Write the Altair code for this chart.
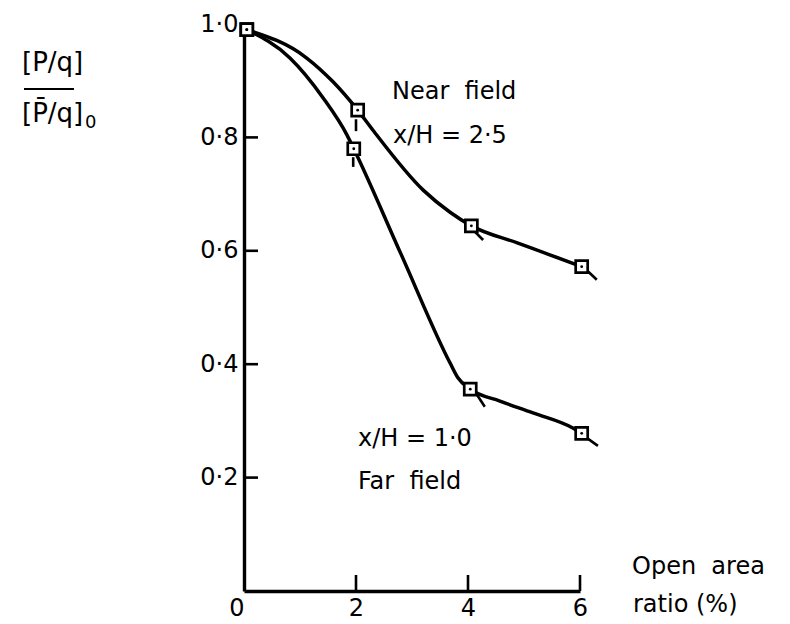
import altair as alt
import pandas as pd

# ---- data ----
x_ticks = [0, 2, 4, 6]
y_label_values = [0.2, 0.4, 0.6, 0.8, 1.0]
y_inner_ticks = [0.2, 0.4, 0.6, 0.8]
x_inner_ticks = [2, 4, 6]

# measured points (square markers)
near_x = [0.05, 2.03, 4.06, 6.03]
near_y = [0.99, 0.848, 0.644, 0.572]
far_x = [0.05, 1.96, 4.04, 6.03]
far_y = [0.99, 0.78, 0.356, 0.278]

# hand-drawn curves
near_curve_x = [0.05, 1.12, 1.59, 2.03, 2.30, 3.20, 3.68, 4.06, 4.88, 5.46, 6.03]
near_curve_y = [0.99, 0.94, 0.898, 0.848, 0.813, 0.707, 0.668, 0.644, 0.614, 0.593, 0.572]
far_curve_x = [0.05, 0.82, 1.41, 1.84, 1.96, 2.80, 3.68, 3.82, 4.04, 4.57, 5.16, 5.88, 6.03]
far_curve_y = [0.99, 0.94, 0.87, 0.804, 0.78, 0.595, 0.402, 0.376, 0.356, 0.335, 0.314, 0.287, 0.278]

# short pen strokes next to the squares (start/end of each)
tail_id = ["n2", "n2", "f2", "f2", "n4", "n4", "f4", "f4", "n6", "n6", "f6", "f6"]
tail_x = [2.00, 2.00, 1.95, 1.95, 4.09, 4.27, 4.16, 4.30, 6.14, 6.30, 6.12, 6.32]
tail_y = [0.832, 0.811, 0.765, 0.748, 0.637, 0.619, 0.346, 0.325, 0.564, 0.549, 0.270, 0.256]

FONT = "DejaVu Sans"
W, H = 336, 567
SP = " \u00a0"  # wide word gap as in the lettering

curves = pd.concat([
    pd.DataFrame({"x": near_curve_x, "y": near_curve_y, "series": "Near field"}),
    pd.DataFrame({"x": far_curve_x, "y": far_curve_y, "series": "Far field"}),
])
points = pd.concat([
    pd.DataFrame({"x": near_x, "y": near_y, "series": "Near field"}),
    pd.DataFrame({"x": far_x, "y": far_y, "series": "Far field"}),
])
tails = pd.DataFrame({"x": tail_x, "y": tail_y, "id": tail_id})

xs = alt.Scale(domain=[0, 6], nice=False, zero=False)
ys = alt.Scale(domain=[0, 1], nice=False, zero=False)

x_axis = alt.Axis(
    values=x_ticks, ticks=False, grid=False, title=None,
    domainColor="black", domainWidth=3.4,
    labelFont=FONT, labelFontSize=24, labelColor="black", labelPadding=5,
    labelFlush=False, labelExpr="format(datum.value, 'd')",
    labelAlign={"condition": {"test": "datum.value == 0", "value": "right"}, "value": "center"},
)
y_axis = alt.Axis(
    values=y_label_values, ticks=False, grid=False, title=None,
    domainColor="black", domainWidth=3.4,
    labelFont=FONT, labelFontSize=24, labelColor="black", labelPadding=6,
    labelExpr="replace(format(datum.value, '.1f'), '.', '·')",
)

lines = alt.Chart(curves).mark_line(
    interpolate="monotone", color="black", strokeWidth=3.5
).encode(
    x=alt.X("x:Q", scale=xs, axis=x_axis),
    y=alt.Y("y:Q", scale=ys, axis=y_axis),
    detail="series:N",
)

tail_lines = alt.Chart(tails).mark_line(color="black", strokeWidth=2.6).encode(
    x=alt.X("x:Q", scale=xs), y=alt.Y("y:Q", scale=ys), detail="id:N"
)

squares = alt.Chart(points).mark_point(
    shape="square", filled=True, fill="white", stroke="black",
    size=144, strokeWidth=2.7, opacity=1
).encode(x=alt.X("x:Q", scale=xs), y=alt.Y("y:Q", scale=ys))

dots = alt.Chart(points).mark_point(
    shape="circle", filled=True, color="black", size=8, opacity=1
).encode(x=alt.X("x:Q", scale=xs), y=alt.Y("y:Q", scale=ys))

ytick_rules = alt.Chart(pd.DataFrame({"v": y_inner_ticks})).mark_rule(
    color="black", strokeWidth=2.6
).encode(y=alt.Y("v:Q", scale=ys), x=alt.value(0), x2=alt.value(14))

xtick_rules = alt.Chart(pd.DataFrame({"v": x_inner_ticks})).mark_rule(
    color="black", strokeWidth=2.6
).encode(x=alt.X("v:Q", scale=xs), y=alt.value(H), y2=alt.value(H - 16))


def label(text, px, py, size=24):
    return alt.Chart(pd.DataFrame({"t": [text]})).mark_text(
        align="left", baseline="middle", font=FONT, fontSize=size, color="black"
    ).encode(x=alt.value(px), y=alt.value(py), text="t:N")


texts = [
    label("Near" + SP + "field", 148, 68),
    label("x/H = 2·5", 149, 112),
    label("x/H = 1·0", 114, 415),
    label("Far" + SP + "field", 114, 458),
    label("Open" + SP + "area", 388, 543),
    label("ratio (%)", 389, 581),
    label("[P/q]", -222, 39, 26),
    label("[P̄/q]", -222, 90, 26),
    label("0", -159, 99, 18),
]

frac_line = alt.Chart(pd.DataFrame({"t": [0]})).mark_rule(
    color="black", strokeWidth=2.2
).encode(x=alt.value(-220), x2=alt.value(-170), y=alt.value(65))

chart = alt.layer(
    lines, tail_lines, ytick_rules, xtick_rules, squares, dots, frac_line, *texts
).properties(
    width=W, height=H,
    background="white",
    autosize=alt.AutoSizeParams(type="none"),
    padding={"left": 236, "top": 16, "right": 190, "bottom": 34},
).configure_view(stroke="transparent", strokeWidth=0)

chart.save("out.html", embed_options={"renderer": "svg", "actions": False})
